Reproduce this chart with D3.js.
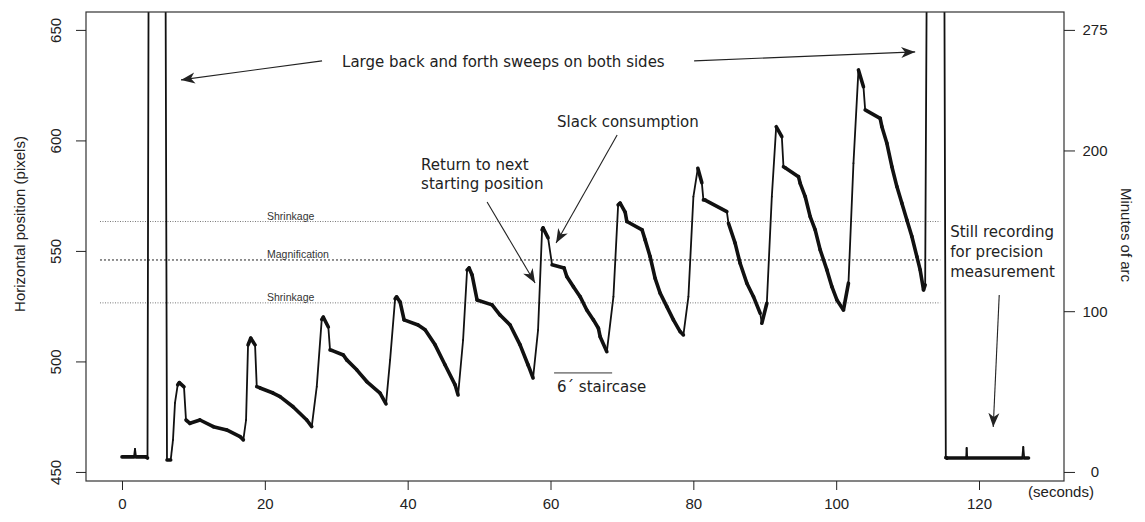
<!DOCTYPE html>
<html>
<head>
<meta charset="utf-8">
<script src="https://cdn.jsdelivr.net/npm/d3@7"></script>
<style>
  html, body { margin: 0; padding: 0; background: #fff; }
  svg { display: block; }
  .axis text { font-family: "Liberation Sans", Arial, sans-serif; font-size: 15px; fill: #222; }
  .axis line { stroke: #222; }
  .note { font-family: "DejaVu Sans", Verdana, sans-serif; font-size: 15px; fill: #222; }
  .guide-label { font-family: "Liberation Sans", Arial, sans-serif; font-size: 10.5px; fill: #333; }
</style>
</head>
<body>
<svg id="chart" width="1145" height="522"></svg>
<script>
// Eye-tracker recording: horizontal gaze position over time
const secs = [
  0, 1.68, 1.82, 1.96, 3.36, 3.57, 3.8, 6.0, 6.3, 6.82, 7.14, 7.42, 7.8, 8.03, 8.68, 8.96, 9.52, 10.92, 12.79, 14.66, 16.53, 16.99,
  17.37, 17.65, 18.03, 18.63, 18.87, 19.33, 21.15, 22.13, 23.95, 25.87, 26.57,
  27.27, 27.97, 28.19, 28.89, 29.13, 29.37, 30.99, 31.47, 32.87, 34.27, 36.13, 36.97,
  37.54, 38.24, 38.45, 38.94, 39.5, 41.46, 42.44, 43.84, 45.24, 46.64, 47.06,
  47.76, 48.32, 48.6, 49.02, 49.72, 51.82, 52.94, 54.34, 55.74, 56.86, 57.56,
  58.26, 58.82, 58.96, 59.66, 60.22, 61.9, 62.28, 63.21, 64.15, 65.08, 66.01, 66.71, 66.95, 67.89,
  68.81, 69.47, 69.75, 70.45, 70.69, 72.83, 73.25, 73.95, 74.65, 75.35, 76.29, 77.21, 78.15, 78.61,
  79.31, 80.01, 80.63, 81.19, 81.41, 81.65, 84.69, 84.92, 85.85, 86.55, 87.49, 88.42, 89.36, 89.59,
  90.29, 90.99, 91.6, 92.39, 92.62, 92.86, 94.72, 94.96, 95.66, 96.36, 97.06, 97.76, 98.7, 99.4, 100.1, 101.02,
  101.72, 102.42, 103.12, 103.82, 104.06, 106.16, 106.4, 107.1, 107.8, 108.5, 109.2, 109.9, 110.6, 111.3, 111.76, 112.23, 112.46,
  112.85, 115.05, 115.35, 115.5, 118.2, 118.27, 118.35, 126.05, 126.2, 126.33, 126.93
];
const pixels = [
  456.8, 456.8, 460.4, 456.8, 456.8, 456.3, 780, 780, 455.4, 455.4, 464.5, 481.2, 489.4, 490.4, 488.5, 473.5, 472.0, 473.5, 470.5, 469.0, 466.0, 464.5,
  473.5, 507.5, 510.5, 507.5, 488.6, 488.0, 485.7, 484.1, 479.5, 473.5, 470.5,
  488.6, 519.0, 520.0, 515.6, 505.2, 505.0, 502.9, 500.7, 496.2, 490.9, 485.7, 480.8,
  500.7, 528.3, 529.2, 526.9, 518.8, 516.5, 514.3, 507.5, 498.4, 489.4, 484.8,
  509.7, 541.4, 542.3, 539.1, 527.8, 525.6, 521.0, 516.5, 507.5, 498.4, 492.5,
  514.3, 559.5, 560.4, 555.9, 543.7, 542.3, 538.4, 533.8, 529.3, 523.3, 518.8, 515.0, 511.2, 504.4,
  529.3, 570.8, 571.6, 567.6, 563.3, 559.5, 555.0, 547.4, 537.6, 530.9, 524.8, 518.8, 513.5, 512.0,
  529.3, 574.6, 587.4, 580.8, 573.1, 573.0, 567.8, 562.5, 553.5, 544.4, 535.4, 529.3, 521.8, 517.3,
  526.3, 574.6, 606.2, 601.7, 588.1, 587.6, 583.6, 580.6, 574.6, 565.5, 559.5, 550.5, 541.4, 533.8, 527.8, 523.3,
  535.4, 589.7, 631.9, 624.3, 613.8, 610.0, 606.2, 598.7, 588.1, 579.1, 571.6, 564.0, 556.5, 547.4, 541.4, 532.4, 534.6,
  780, 780, 456.5, 456.3, 456.3, 460.9, 456.3, 456.3, 461.3, 456.3, 456.3
];

// Horizontal reference levels (pixels) and their names
const guideLevels = [563.3, 545.9, 526.5];
const guideNames = ["Shrinkage", "Magnification", "Shrinkage"];
const guideSpan = [-3.08, 114.57];

// Axis ticks
const xTicks = [0, 20, 40, 60, 80, 100, 120];
const yTicks = [450, 500, 550, 600, 650];
const arcTicks = [0, 100, 200, 275];

const W = 1145, H = 522;
const margin = { top: 12, right: 81, bottom: 41, left: 86 };
const iw = W - margin.left - margin.right;
const ih = H - margin.top - margin.bottom;

const svg = d3.select("#chart");
const g = svg.append("g").attr("transform", `translate(${margin.left},${margin.top})`);

const x = d3.scaleLinear().domain([-5.04, 131.9]).range([0, iw]);
const y = d3.scaleLinear().domain([445.9, 658.1]).range([ih, 0]);
// minutes of arc: 200 pixels correspond to 275 arc minutes, 450 px = 0
const toArc = v => (v - 450) * 275 / 200;
const yArc = d3.scaleLinear().domain(y.domain().map(toArc)).range([ih, 0]);

g.append("clipPath").attr("id", "plotClip")
  .append("rect").attr("width", iw).attr("height", ih);

// guide lines
g.append("g").selectAll("line").data(guideLevels).join("line")
  .attr("x1", x(guideSpan[0])).attr("x2", x(guideSpan[1]))
  .attr("y1", d => y(d)).attr("y2", d => y(d))
  .attr("stroke", (d, i) => i === 1 ? "#222" : "#777")
  .attr("stroke-width", 1)
  .attr("stroke-dasharray", (d, i) => i === 1 ? "2,2" : "1,1.5");

g.append("g").selectAll("text").data(guideLevels).join("text")
  .attr("class", "guide-label")
  .attr("x", x(20.31))
  .attr("y", d => y(d) - 2)
  .text((d, i) => guideNames[i]);

// trace: fast saccade-like segments are drawn thin, slow drift thick
const pts = secs.map((t, i) => [t, pixels[i]]);
const segs = d3.pairs(pts);
const isFast = ([a, b]) => Math.abs(y(b[1]) - y(a[1])) > 6 * Math.abs(x(b[0]) - x(a[0]));
g.append("g").attr("clip-path", "url(#plotClip)")
  .selectAll("line").data(segs).join("line")
  .attr("x1", d => x(d[0][0])).attr("y1", d => y(d[0][1]))
  .attr("x2", d => x(d[1][0])).attr("y2", d => y(d[1][1]))
  .attr("stroke", "#111")
  .attr("stroke-linecap", "round")
  .attr("stroke-width", d => isFast(d) ? 1.8 : 3.6);

// frame
g.append("rect").attr("width", iw).attr("height", ih)
  .attr("fill", "none").attr("stroke", "#333").attr("stroke-width", 1.2);

// bottom axis
const xa = g.append("g").attr("class", "axis").attr("transform", `translate(0,${ih})`)
  .call(d3.axisBottom(x).tickValues(xTicks).tickSize(9).tickPadding(8).tickFormat(d3.format("d")));
xa.select(".domain").remove();

// left axis, rotated labels
const ya = g.append("g").attr("class", "axis")
  .call(d3.axisLeft(y).tickValues(yTicks).tickSize(10).tickFormat(d3.format("d")));
ya.select(".domain").remove();
ya.selectAll("text")
  .attr("transform", "rotate(-90)")
  .attr("text-anchor", "middle")
  .attr("x", 0).attr("y", -30).attr("dy", "0.35em");

// right axis in minutes of arc
const ra = g.append("g").attr("class", "axis").attr("transform", `translate(${iw},0)`)
  .call(d3.axisRight(yArc).tickValues(arcTicks).tickSize(11).tickFormat(d3.format("d")));
ra.select(".domain").remove();
ra.selectAll("text").attr("text-anchor", "middle").attr("x", 31);

// axis titles
svg.append("text")
  .attr("transform", "translate(20,224) rotate(-90)")
  .attr("text-anchor", "middle").attr("dy", "0.35em")
  .style("font-family", "Liberation Sans, Arial, sans-serif").style("font-size", "15px").style("fill", "#222")
  .text("Horizontal position (pixels)");
svg.append("text")
  .attr("transform", "translate(1126,235) rotate(90)")
  .attr("text-anchor", "middle").attr("dy", "0.35em")
  .style("font-family", "Liberation Sans, Arial, sans-serif").style("font-size", "15px").style("fill", "#222")
  .text("Minutes of arc");
svg.append("text")
  .attr("x", 1061).attr("y", 492).attr("text-anchor", "middle").attr("dy", "0.35em")
  .style("font-family", "Liberation Sans, Arial, sans-serif").style("font-size", "15px").style("fill", "#222")
  .text("(seconds)");

// annotations, placed in data units
const defs = svg.append("defs");
defs.append("marker").attr("id", "head")
  .attr("viewBox", "-14 -6 16 12").attr("refX", 0).attr("refY", 0)
  .attr("markerUnits", "userSpaceOnUse").attr("markerWidth", 16).attr("markerHeight", 12)
  .attr("orient", "auto")
  .append("path").attr("d", "M0,0 L-14,-5.5 L-10,0 L-14,5.5 Z").attr("fill", "#222");

const notes = g.append("g");
function arrow(t0, v0, t1, v1) {
  notes.append("line")
    .attr("x1", x(t0)).attr("y1", y(v0)).attr("x2", x(t1)).attr("y2", y(v1))
    .attr("stroke", "#222").attr("stroke-width", 1.1)
    .attr("marker-end", "url(#head)");
}
function note(t, v, s) {
  notes.append("text").attr("class", "note").attr("x", x(t)).attr("y", y(v)).text(s);
}

note(30.81, 633.26, "Large back and forth sweeps on both sides");
arrow(28.01, 635.97, 8.26, 627.38);
arrow(80.11, 635.97, 111.06, 640.05);

note(60.92, 606.11, "Slack consumption");
arrow(69.33, 602.49, 60.78, 553.62);

note(41.88, 586.65, "Return to next");
note(41.88, 577.83, "starting position");
arrow(51.12, 572.17, 57.84, 535.52);

note(60.92, 486.2, "6\u00B4 staircase");
notes.append("line")
  .attr("x1", x(60.5)).attr("x2", x(68.63))
  .attr("y1", y(494.8)).attr("y2", y(494.8))
  .attr("stroke", "#333").attr("stroke-width", 1);

note(115.97, 556.2, "Still recording");
note(115.97, 547.15, "for precision");
note(115.97, 538.1, "measurement");
arrow(122.83, 530.09, 121.99, 470.36);
</script>
</body>
</html>
